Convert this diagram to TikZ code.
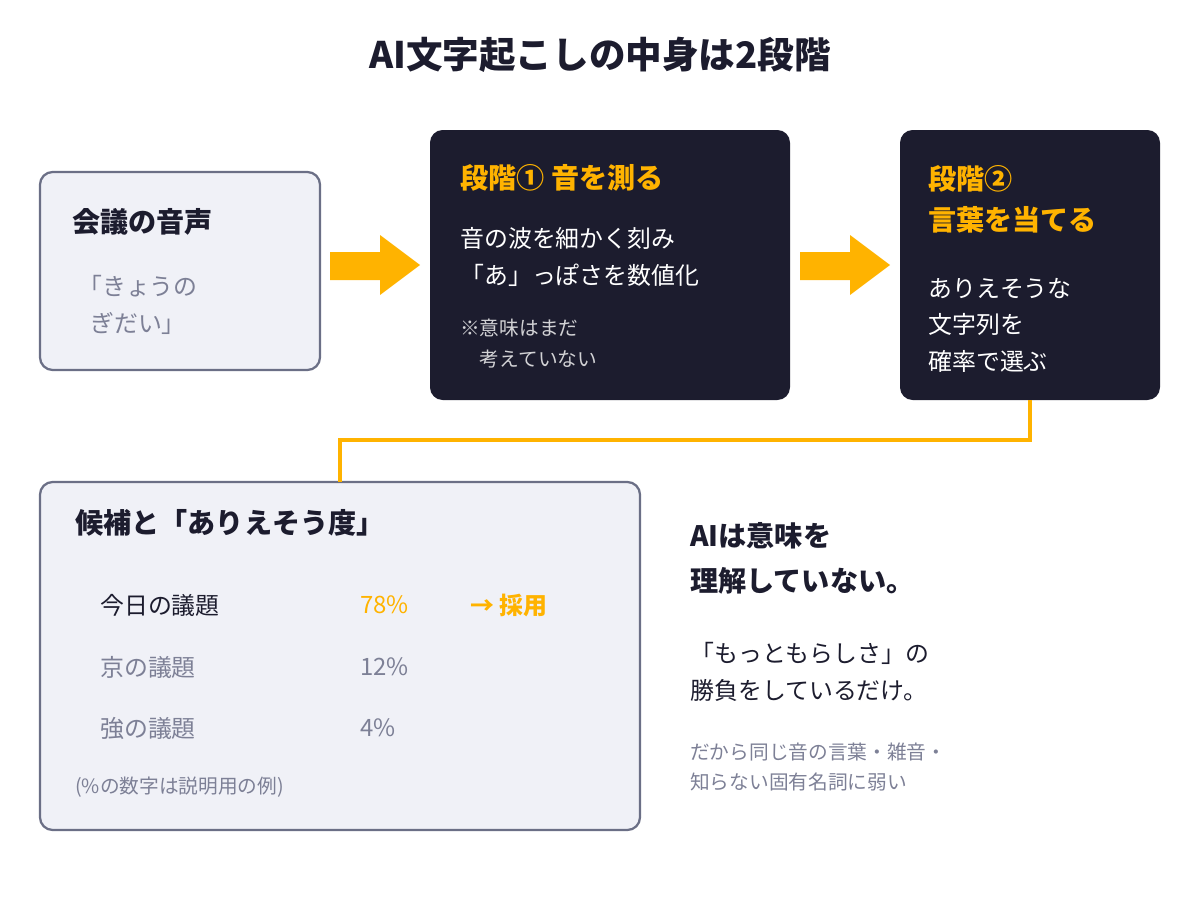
\documentclass[tikz,border=0pt]{standalone}
\usepackage{fontspec}
\setmainfont{Noto Sans CJK JP}
\usetikzlibrary{positioning}
\definecolor{navybox}{RGB}{28, 28, 46}
\definecolor{accent}{RGB}{255, 179, 0}
\definecolor{paleface}{RGB}{240, 241, 247}
\definecolor{edgegray}{RGB}{107, 111, 134}
\definecolor{inkdark}{RGB}{28, 28, 46}
\definecolor{mutegray}{RGB}{125, 128, 150}

\begin{document}
\begin{tikzpicture}[x=0.025cm, y=-0.025cm,
    light/.style={draw=edgegray, line width=1.6pt, fill=paleface, rounded corners=9pt},
    dark/.style={fill=navybox, rounded corners=9pt},
    txt/.style={anchor=west, inner sep=0pt, align=left, font=\fontsize{17}{26}\selectfont},
    head/.style={txt, font=\fontsize{20}{29}\selectfont\bfseries},
    note/.style={txt, font=\fontsize{14}{22}\selectfont}]
    \useasboundingbox (0,0) rectangle (1200,900);

    % 見出し
    \node[font=\fontsize{26}{30}\selectfont\bfseries, text=inkdark] (title) at (600,55) {AI文字起こしの中身は2段階};

    % 箱
    \draw[light] (40,172) rectangle (320,370);
    \fill[dark] (430,130) rectangle (790,400);
    \fill[dark] (900,130) rectangle (1160,400);
    \draw[light] (40,482) rectangle (640,830);

    % 矢印
    \foreach \x in {330, 800} {
        \fill[accent] (\x,252) -- (\x+50,252) -- (\x+50,235) -- (\x+90,265)
            -- (\x+50,295) -- (\x+50,280) -- (\x,280) -- cycle;
    }

    % 段階② から候補へ
    \coordinate (s2) at (1030,400);
    \coordinate (cand) at (340,482);
    \draw[accent, line width=3pt] (s2) |- (685,440) -| (cand);

    % 会議の音声
    \node[head, text=inkdark] (voice) at (72,222) {会議の音声};
    \node[txt, text=mutegray] (sound) at (78,305) {「きょうの\\\hspace{0.5em}ぎだい」};

    % 段階①
    \node[head, text=accent] (st1) at (460,178) {段階① 音を測る};
    \node[txt, text=white] (wave) at (460,257) {音の波を細かく刻み\\「あ」っぽさを数値化};
    \node[note, text=white!80!navybox] (memo) at (460,344) {※意味はまだ\\\hspace{1em}考えていない};

    % 段階②
    \node[head, text=accent] (st2) at (928,199) {段階②\\言葉を当てる};
    \node[txt, text=white] (pick) at (928,325) {ありえそうな\\文字列を\\確率で選ぶ};

    % 候補
    \node[head, text=inkdark] (cands) at (75,523) {候補と「ありえそう度」};
    \node[txt, text=inkdark] (c1) at (100,605) {今日の議題};
    \node[txt, text=accent] (p1) at (360,605) {78\%};
    \node[txt, text=accent, font=\fontsize{17}{26}\selectfont\bfseries] (adopt) at (470,605) {→ 採用};
    \node[txt, text=mutegray] (c2) at (100,667) {京の議題};
    \node[txt, text=mutegray] (p2) at (360,667) {12\%};
    \node[txt, text=mutegray] (c3) at (100,728) {強の議題};
    \node[txt, text=mutegray] (p3) at (360,728) {4\%};
    \node[note, text=mutegray] (ex) at (75,787) {(\%の数字は説明用の例)};

    % 右側
    \node[head, text=inkdark, font=\fontsize{20}{32}\selectfont\bfseries] (msg) at (690,558) {AIは意味を\\理解していない。};
    \node[txt, text=inkdark] (plaus) at (690,672) {「もっともらしさ」の\\勝負をしているだけ。};
    \node[note, text=mutegray] (weak) at (690,767) {だから同じ音の言葉・雑音・\\知らない固有名詞に弱い};
\end{tikzpicture}
\end{document}
